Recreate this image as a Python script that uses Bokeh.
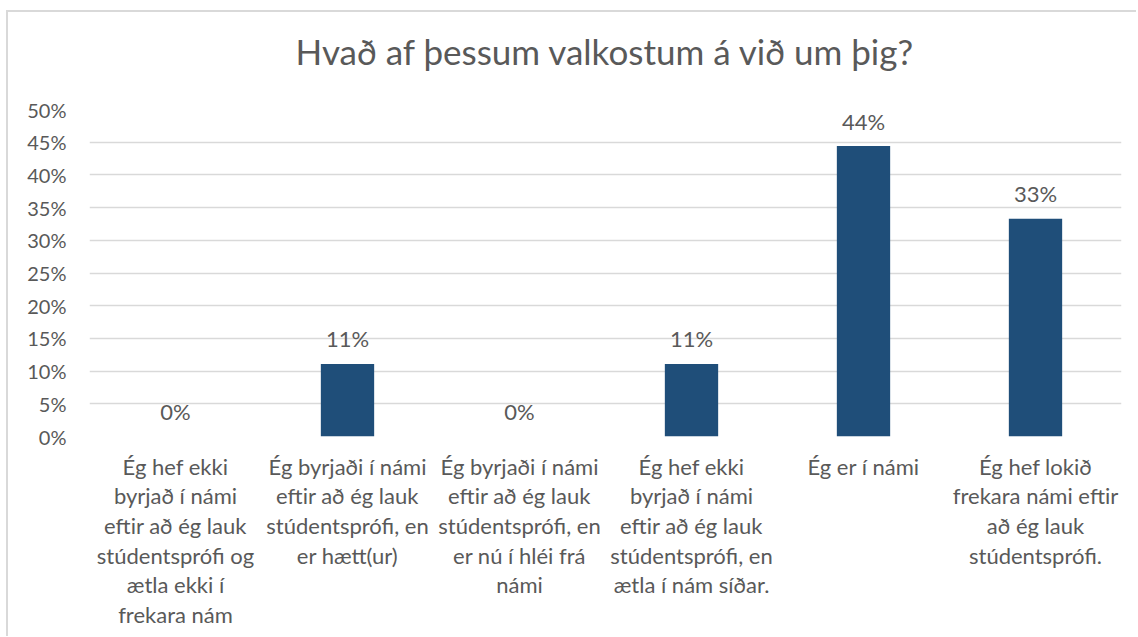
from bokeh.plotting import figure
from bokeh.models import ColumnDataSource, Range1d, NumeralTickFormatter, FixedTicker, LabelSet, Title
from bokeh.core.properties import value
from bokeh.embed import file_html
from bokeh.resources import INLINE

categories = [
    "Ég hef ekki\nbyrjað í námi\neftir að ég lauk\nstúdentsprófi og\nætla ekki í\nfrekara nám",
    "Ég byrjaði í námi\neftir að ég lauk\nstúdentsprófi, en\ner hætt(ur)",
    "Ég byrjaði í námi\neftir að ég lauk\nstúdentsprófi, en\ner nú í hléi frá\nnámi",
    "Ég hef ekki\nbyrjað í námi\neftir að ég lauk\nstúdentsprófi, en\nætla í nám síðar.",
    "Ég er í námi",
    "Ég hef lokið\nfrekara námi eftir\nað ég lauk\nstúdentsprófi.",
]
values = [0.0, 0.111, 0.0, 0.111, 0.444, 0.333]
labels = ["0%", "11%", "0%", "11%", "44%", "33%"]
y_ticks = [0, 0.05, 0.10, 0.15, 0.20, 0.25, 0.30, 0.35, 0.40, 0.45, 0.50]
title_text = "Hvað af þessum valkostum á við um þig?"

FONT = "Lato"
TXT = "#595959"
BORDER = "#D9D9D9"

src = ColumnDataSource(dict(cat=categories, val=values, lab=labels))

p = figure(
    x_range=categories, y_range=Range1d(0, 0.5),
    width=1136, height=636,
    output_backend="svg", toolbar_location=None,
    min_border_left=89, min_border_right=15, min_border_top=109, min_border_bottom=200,
)
p.title = None
p.background_fill_alpha = 0
p.border_fill_alpha = 0
p.styles = {
    "background-image": f"linear-gradient({BORDER},{BORDER}), linear-gradient({BORDER},{BORDER})",
    "background-repeat": "no-repeat",
    "background-size": "100% 2px, 2px 100%",
    "background-position": "6px 10px, 6px 10px",
}

# invisible spacer between the plot frame and the title (innermost panel)
p.add_layout(Title(text=" ", text_font_size="2px", standoff=34), "above")
p.add_layout(Title(text=title_text, align="center", text_font=FONT, text_font_size="35px",
                   text_font_style="normal", text_color=TXT, standoff=0), "above")

p.vbar(x="cat", top="val", width=0.31, source=src, fill_color="#1F4E79", line_color=None)

p.add_layout(LabelSet(x="cat", y="val", text="lab", source=src, text_align="center",
                      text_baseline="middle", y_offset=25, text_font=value(FONT),
                      text_font_size=value("22px"), text_color=TXT))

p.outline_line_color = None
p.xgrid.grid_line_color = None
p.ygrid.grid_line_color = "#D9D9D9"
p.ygrid.grid_line_width = 1.5

p.yaxis.ticker = FixedTicker(ticks=y_ticks)
p.yaxis.formatter = NumeralTickFormatter(format="0%")
p.yaxis.axis_line_color = None
p.yaxis.major_tick_line_color = None
p.yaxis.minor_tick_line_color = None
p.yaxis.major_tick_out = 0
p.yaxis.major_label_standoff = 23
p.yaxis.major_label_text_font = FONT
p.yaxis.major_label_text_font_size = "20px"
p.yaxis.major_label_text_color = TXT

p.xaxis.axis_line_color = None
p.xaxis.major_tick_line_color = None
p.xaxis.major_tick_out = 0
p.xaxis.major_label_standoff = 16
p.xaxis.major_label_orientation = "horizontal"
p.xaxis.major_label_text_font = FONT
p.xaxis.major_label_text_font_size = "22px"
p.xaxis.major_label_text_color = TXT
p.xaxis.major_label_text_line_height = 1.1

open("out.html", "w").write(file_html(p, INLINE))
